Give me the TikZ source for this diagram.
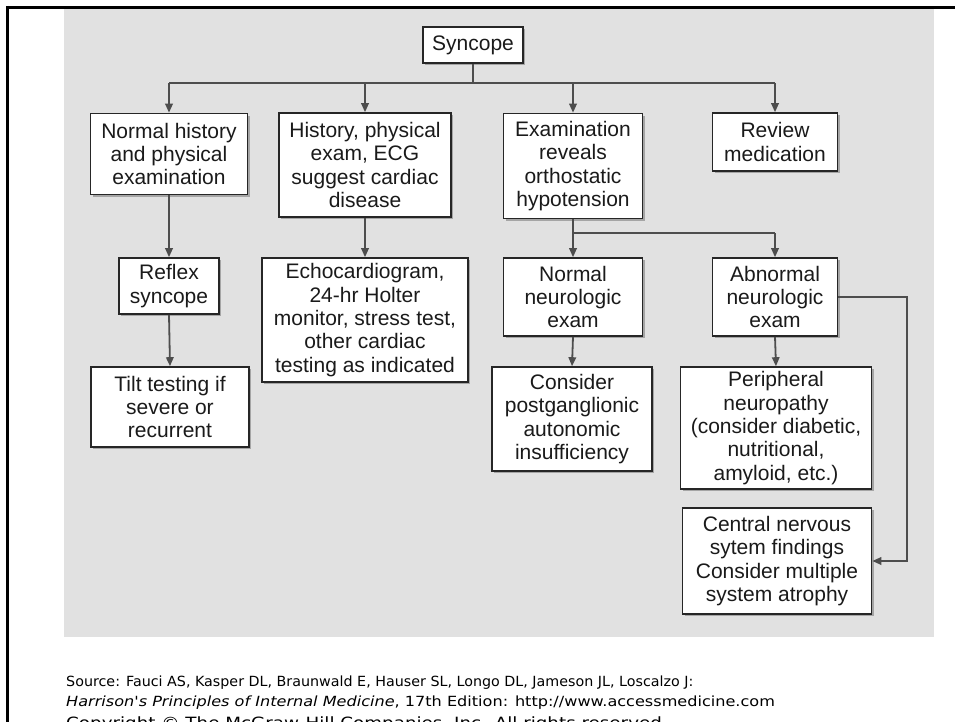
\documentclass[tikz,border=0pt]{standalone}
\usepackage{fontspec}
\setmainfont{Liberation Sans}
\newfontfamily\footfont{DejaVu Sans}
\usetikzlibrary{arrows.meta,shadows}
\definecolor{panelgray}{HTML}{E1E1E1}
\definecolor{boxline}{HTML}{262626}
\definecolor{conncol}{HTML}{4D4D4D}
\definecolor{txtcol}{HTML}{1A1A1A}
\begin{document}
\begin{tikzpicture}[x=1pt,y=-1pt,
  box/.style={draw=boxline, line width=1.6pt, fill=white, align=center, inner sep=0pt,
    font=\fontsize{21}{23.3}\selectfont, text=txtcol,
    drop shadow={shadow xshift=2.2pt, shadow yshift=-2.2pt, fill=black!45, opacity=0.7}},
  conn/.style={draw=conncol, line width=1.8pt, -{Triangle[length=9pt,width=7.5pt]}},
  link/.style={draw=conncol, line width=1.8pt},
  foot/.style={anchor=base west, inner sep=0pt, text=black, font=\footfont\fontsize{14}{16}\selectfont}]
\useasboundingbox (0,0) rectangle (955,722);
\fill[panelgray] (64,9) rectangle (934,637);
\draw[line width=3pt, black] (7,7.5) -- (955,7.5);
\draw[line width=3pt, black] (7.5,6) -- (7.5,722);

\node[box, minimum width=100pt, minimum height=36pt] (sync) at (473,45) {Syncope};

\node[box, minimum width=157pt, minimum height=81pt] (b1) at (169,154) {Normal history\\and physical\\examination};
\node[box, minimum width=172pt, minimum height=104pt] (b2) at (365,165) {History, physical\\exam, ECG\\suggest cardiac\\disease};
\node[box, minimum width=139pt, minimum height=105pt] (b3) at (573,166) {Examination\\reveals\\orthostatic\\hypotension};
\node[box, minimum width=125pt, minimum height=58pt] (b4) at (775,142) {Review\\medication};

\node[box, minimum width=100pt, minimum height=56pt] (reflex) at (169,286) {Reflex\\syncope};
\node[box, minimum width=158pt, minimum height=80pt] (tilt) at (170,407) {Tilt testing if\\severe or\\recurrent};
\node[box, minimum width=206pt, minimum height=124pt] (echo) at (365,320) {Echocardiogram,\\24-hr Holter\\monitor, stress test,\\other cardiac\\testing as indicated};

\node[box, minimum width=139pt, minimum height=78pt] (nneuro) at (573,297) {Normal\\neurologic\\exam};
\node[box, minimum width=160pt, minimum height=104pt] (consider) at (572,419) {Consider\\postganglionic\\autonomic\\insufficiency};
\node[box, minimum width=125pt, minimum height=78pt] (abn) at (775,297) {Abnormal\\neurologic\\exam};
\node[box, minimum width=191pt, minimum height=122pt] (periph) at (776,428) {Peripheral\\neuropathy\\(consider diabetic,\\nutritional,\\amyloid, etc.)};
\node[box, minimum width=189pt, minimum height=106pt] (central) at (777,561) {Central nervous\\sytem findings\\Consider multiple\\system atrophy};

% top branching
\coordinate (j0) at (473,83);
\draw[link] (sync.south) -- (j0);
\draw[link] (b1.north |- j0) -- (b4.north |- j0);
\draw[conn] (b1.north |- j0) -- (b1.north);
\draw[conn] (b2.north |- j0) -- (b2.north);
\draw[conn] (b3.north |- j0) -- (b3.north);
\draw[conn] (b4.north |- j0) -- (b4.north);

% left columns
\draw[conn] (b1.south) -- (reflex.north);
\draw[conn] (reflex.south) -- (tilt.north);
\draw[conn] (b2.south) -- (echo.north);

% orthostatic branch
\coordinate (j1) at (573,233);
\draw[link] (b3.south) -- (j1) -- (abn.north |- j1);
\draw[conn] (j1) -- (nneuro.north);
\draw[conn] (abn.north |- j1) -- (abn.north);
\draw[conn] (nneuro.south) -- (consider.north);
\draw[conn] (abn.south) -- (periph.north);

% side connector
\coordinate (k1) at (907,295);
\draw[conn] (abn.east) -- (abn.east -| k1) -- (k1 |- central.east) -- (central.east);

% footer
\node[foot] (src) at (66,686) {\scalebox{1.02}[1]{Source: Fauci AS, Kasper DL, Braunwald E, Hauser SL, Longo DL, Jameson JL, Loscalzo J:}};
\node[foot] (harr) at (66,706) {\scalebox{1.15}[1]{\textit{Harrison's Principles of Internal Medicine}, 17th Edition: http://www.accessmedicine.com}};
\node[foot, font=\footfont\fontsize{15.5}{17}\selectfont] (copy) at (66,728) {\scalebox{1.18}[1]{Copyright © The McGraw-Hill Companies, Inc. All rights reserved.}};
\end{tikzpicture}
\end{document}
